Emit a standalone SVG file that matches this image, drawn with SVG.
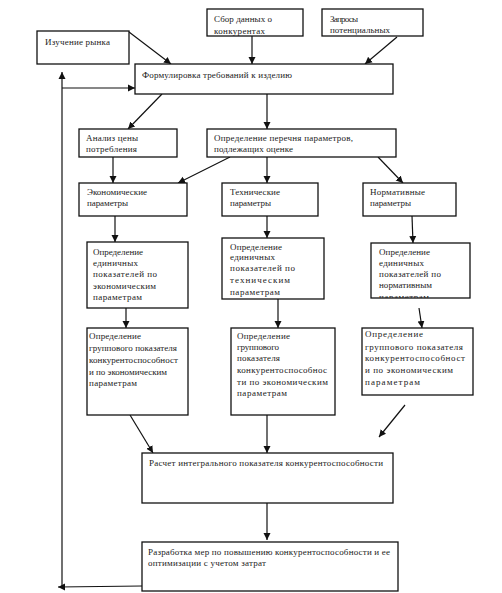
<svg xmlns="http://www.w3.org/2000/svg" width="502" height="593" viewBox="0 0 502 593">
<style>
.b{fill:#fff;stroke:#111;stroke-width:1.3}
.t{font-family:"Liberation Serif","Times New Roman",serif;font-size:9px;fill:#222}
.c line,.c polyline{stroke:#111;stroke-width:1.2;fill:none}
.a{marker-end:url(#ah)}
</style>
<defs>
<marker id="ah" markerUnits="userSpaceOnUse" markerWidth="8" markerHeight="8" refX="7" refY="4" orient="auto">
<path d="M0,0.5 L7,4 L0,7.5 Z" fill="#111"/>
</marker>
<clipPath id="cn"><rect x="371" y="243" width="99" height="55"/></clipPath>
<clipPath id="cs"><rect x="207" y="9" width="96" height="27"/></clipPath>
</defs>
<rect width="502" height="593" fill="#fff"/>

<g class="c" id="connectors">
<line class="a" x1="129" y1="32" x2="171" y2="64"/>
<line class="a" x1="252" y1="36" x2="252" y2="64"/>
<line class="a" x1="397" y1="37" x2="365" y2="64"/>
<line class="a" x1="162" y1="94" x2="128" y2="129"/>
<line class="a" x1="267" y1="94" x2="267" y2="129"/>
<line class="a" x1="113" y1="157" x2="113" y2="183"/>
<line class="a" x1="230" y1="157" x2="178" y2="183"/>
<line class="a" x1="267" y1="157" x2="267" y2="183"/>
<line class="a" x1="378" y1="157" x2="403" y2="183"/>
<line class="a" x1="115" y1="216" x2="115" y2="242"/>
<line class="a" x1="267" y1="216" x2="267" y2="238"/>
<line class="a" x1="412" y1="216" x2="413" y2="243"/>
<line class="a" x1="126" y1="308" x2="126" y2="328"/>
<line class="a" x1="278" y1="299" x2="278" y2="328"/>
<line class="a" x1="419" y1="308" x2="422" y2="328"/>
<line class="a" x1="130" y1="415" x2="153" y2="453"/>
<line class="a" x1="267" y1="415" x2="267" y2="453"/>
<line class="a" x1="405" y1="405" x2="379" y2="437"/>
<line class="a" x1="267" y1="503" x2="267" y2="540"/>
<line class="a" x1="142" y1="586" x2="58" y2="587"/>
<line class="a" x1="62" y1="587" x2="62" y2="72"/>
<line class="a" x1="62" y1="88" x2="135" y2="88"/>
</g>

<g id="izuchenie"><rect class="b" x="37" y="31" width="92" height="33"/>
<text class="t" x="45" y="45" textLength="65">Изучение рынка</text></g>

<g id="sbor"><rect class="b" x="207" y="9" width="96" height="27"/>
<g clip-path="url(#cs)">
<text class="t" x="214" y="22" textLength="58">Сбор данных о</text>
<text class="t" x="214" y="34" textLength="51">конкурентах</text></g></g>

<g id="zaprosy"><rect class="b" x="322" y="9" width="101" height="27"/>
<text class="t" x="330" y="22" textLength="28">Запросы</text>
<text class="t" x="330" y="33" textLength="60">потенциальных</text></g>

<g id="formulirovka"><rect class="b" x="135" y="64" width="258" height="30"/>
<text class="t" x="142" y="78" textLength="150">Формулировка требований к изделию</text></g>

<g id="analiz"><rect class="b" x="79" y="129" width="98" height="28"/>
<text class="t" x="86" y="141" textLength="52">Анализ цены</text>
<text class="t" x="86" y="152" textLength="51">потребления</text></g>

<g id="perechen"><rect class="b" x="207" y="129" width="189" height="28"/>
<text class="t" x="214" y="141" textLength="139">Определение перечня параметров,</text>
<text class="t" x="214" y="152" textLength="79">подлежащих оценке</text></g>

<g id="econ"><rect class="b" x="79" y="183" width="108" height="33"/>
<text class="t" x="87" y="195" textLength="60">Экономические</text>
<text class="t" x="87" y="206" textLength="41">параметры</text></g>

<g id="tech"><rect class="b" x="222" y="183" width="96" height="33"/>
<text class="t" x="230" y="195" textLength="50">Технические</text>
<text class="t" x="230" y="206" textLength="41">параметры</text></g>

<g id="norm"><rect class="b" x="363" y="183" width="93" height="33"/>
<text class="t" x="370" y="195" textLength="55">Нормативные</text>
<text class="t" x="370" y="206" textLength="41">параметры</text></g>

<g id="ed-econ"><rect class="b" x="87" y="242" width="101" height="66"/>
<text class="t" x="93" y="255" textLength="50">Определение</text>
<text class="t" x="93" y="266" textLength="45">единичных</text>
<text class="t" x="93" y="277" textLength="64">показателей по</text>
<text class="t" x="93" y="289" textLength="63">экономическим</text>
<text class="t" x="93" y="300" textLength="49">параметрам</text></g>

<g id="ed-tech"><rect class="b" x="222" y="238" width="102" height="61"/>
<text class="t" x="230" y="250" textLength="52">Определение</text>
<text class="t" x="230" y="260" textLength="45">единичных</text>
<text class="t" x="230" y="271" textLength="65">показателей по</text>
<text class="t" x="230" y="283" textLength="60">техническим</text>
<text class="t" x="230" y="295" textLength="50">параметрам</text></g>

<g id="ed-norm"><rect class="b" x="371" y="243" width="99" height="55"/>
<g clip-path="url(#cn)">
<text class="t" x="379" y="255" textLength="51">Определение</text>
<text class="t" x="379" y="266" textLength="45">единичных</text>
<text class="t" x="379" y="277" textLength="62">показателей по</text>
<text class="t" x="379" y="288" textLength="53">нормативным</text>
<text class="t" x="379" y="300" textLength="50">параметрам</text></g></g>

<g id="gr-econ"><rect class="b" x="87" y="328" width="101" height="87"/>
<text class="t" x="89" y="339" textLength="52">Определение</text>
<text class="t" x="89" y="351" textLength="88">группового показателя</text>
<text class="t" x="89" y="363" textLength="89">конкурентоспособност</text>
<text class="t" x="89" y="375" textLength="78">и по экономическим</text>
<text class="t" x="89" y="386" textLength="48">параметрам</text></g>

<g id="gr-tech"><rect class="b" x="231" y="328" width="104" height="87"/>
<text class="t" x="237" y="339" textLength="53">Определение</text>
<text class="t" x="237" y="350" textLength="42">группового</text>
<text class="t" x="237" y="361" textLength="43">показателя</text>
<text class="t" x="237" y="373" textLength="90">конкурентоспособнос</text>
<text class="t" x="237" y="385" textLength="91">ти по экономическим</text>
<text class="t" x="237" y="396" textLength="50">параметрам</text></g>

<g id="gr-norm"><rect class="b" x="362" y="328" width="111" height="67"/>
<text class="t" x="365" y="337" textLength="58">Определение</text>
<text class="t" x="365" y="350" textLength="98">группового показателя</text>
<text class="t" x="365" y="361" textLength="100">конкурентоспособност</text>
<text class="t" x="365" y="373" textLength="88">и по экономическим</text>
<text class="t" x="365" y="385" textLength="55">параметрам</text></g>

<g id="raschet"><rect class="b" x="142" y="453" width="251" height="50"/>
<text class="t" x="149" y="466" textLength="234">Расчет интегрального показателя конкурентоспособности</text></g>

<g id="razrabotka"><rect class="b" x="142" y="542" width="256" height="49"/>
<text class="t" x="148" y="555" textLength="242">Разработка мер по повышению конкурентоспособности и ее</text>
<text class="t" x="148" y="566" textLength="118">оптимизации с учетом затрат</text></g>
</svg>
